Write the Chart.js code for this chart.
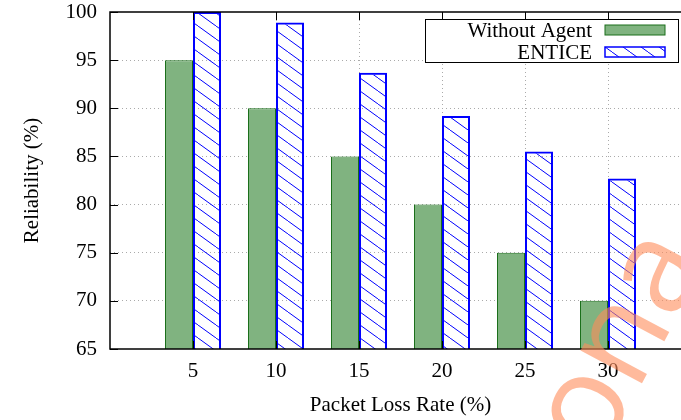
<!DOCTYPE html>
<html>
<head>
<meta charset="utf-8">
<script src="https://cdn.jsdelivr.net/npm/chart.js@4.4.1/dist/chart.umd.min.js"></script>
<style>
  html, body { margin: 0; padding: 0; background: #fff; overflow: hidden; }
  #wrap { position: relative; width: 700px; height: 420px; }
</style>
</head>
<body>
<div id="wrap"><canvas id="relChart"></canvas></div>
<script>
// Datos del gráfico
const lossRates = ['0', '5', '10', '15', '20', '25', '30', '35'];
const withoutAgent = [null, 95, 90, 85, 80, 75, 70, null];
const entice = [null, 100, 98.9, 93.7, 89.2, 85.5, 82.7, null];
const seriesNames = ['Without Agent', 'ENTICE'];
const yTicks = [65, 70, 75, 80, 85, 90, 95, 100];
const watermarkText = 'ona';

const serif = '"Liberation Serif", "Times New Roman", serif';

// Patrón rayado para ENTICE
function makeHatch(color) {
    const c = document.createElement('canvas');
    c.width = 18;
    c.height = 13;
    const g = c.getContext('2d');
    g.strokeStyle = color;
    g.lineWidth = 1;
    g.beginPath();
    g.moveTo(-18, -13);
    g.lineTo(36, 26);
    g.stroke();
    return g.createPattern(c, 'repeat');
}

const hatch = makeHatch('#0000ff');

// Bordes, ticks interiores, leyenda y marca de agua
const gnuplotStyle = {
    id: 'gnuplotStyle',
    afterDatasetsDraw(chart) {
        const ctx = chart.ctx;
        const a = chart.chartArea;
        const xs = chart.scales.x;
        const ys = chart.scales.y;
        ctx.save();
        ctx.strokeStyle = '#000';
        ctx.lineWidth = 1;
        // ticks eje y (izquierda y derecha)
        yTicks.forEach(v => {
            const y = Math.round(ys.getPixelForValue(v)) + 0.5;
            ctx.beginPath();
            ctx.moveTo(a.left, y); ctx.lineTo(a.left + 8, y);
            ctx.moveTo(a.right, y); ctx.lineTo(a.right - 8, y);
            ctx.stroke();
        });
        // ticks eje x (arriba y abajo)
        lossRates.forEach((lbl, i) => {
            if (i === 0 || i === lossRates.length - 1) return;
            const x = Math.round(xs.getPixelForValue(i)) + 0.5;
            ctx.beginPath();
            ctx.moveTo(x, a.top); ctx.lineTo(x, a.top + 8);
            ctx.moveTo(x, a.bottom); ctx.lineTo(x, a.bottom - 8);
            ctx.stroke();
        });
        // borde completo
        ctx.lineWidth = 1.5;
        ctx.strokeRect(a.left, a.top, a.right - a.left, a.bottom - a.top);

        // leyenda
        const boxR = a.right - 13;
        const boxL = boxR - 253;
        const boxT = a.top + 7;
        const boxB = boxT + 43;
        ctx.fillStyle = '#fff';
        ctx.fillRect(boxL, boxT, boxR - boxL, boxB - boxT);
        ctx.lineWidth = 1;
        ctx.strokeRect(boxL + 0.5, boxT + 0.5, boxR - boxL, boxB - boxT);
        ctx.font = '21px ' + serif;
        ctx.textAlign = 'right';
        ctx.textBaseline = 'middle';
        chart.data.datasets.forEach((ds, i) => {
            const cy = boxT + 11 + i * 22;
            ctx.fillStyle = '#000';
            ctx.fillText(ds.label, boxR - 86, cy + 1);
            const sx = boxR - 73, sw = 60, sh = 10;
            ctx.fillStyle = ds.backgroundColor;
            ctx.fillRect(sx, cy - sh / 2, sw, sh);
            ctx.strokeStyle = ds.borderColor;
            ctx.lineWidth = i === 0 ? 1 : 1.5;
            ctx.strokeRect(sx, cy - sh / 2, sw, sh);
        });
        ctx.restore();
    },
    afterDraw(chart) {
        const ctx = chart.ctx;
        ctx.save();
        ctx.translate(600, 462);
        ctx.rotate(-62 * Math.PI / 180);
        ctx.font = '130px "Open Sans", "DejaVu Sans", sans-serif';
        ctx.fillStyle = 'rgba(255, 140, 90, 0.6)';
        ctx.textBaseline = 'alphabetic';
        ctx.fillText(watermarkText, 0, 0);
        ctx.restore();
    }
};

const ctx = document.getElementById('relChart').getContext('2d');
const relChart = new Chart(ctx, {
    type: 'bar',
    data: {
        labels: lossRates,
        datasets: [{
            label: seriesNames[0],
            data: withoutAgent,
            backgroundColor: '#80b380',
            borderColor: '#1a6e1a',
            borderWidth: 1,
            borderSkipped: false
        }, {
            label: seriesNames[1],
            data: entice,
            backgroundColor: hatch,
            borderColor: '#0000ff',
            borderWidth: 2,
            borderSkipped: false
        }]
    },
    options: {
        responsive: true,
        maintainAspectRatio: false,
        animation: false,
        categoryPercentage: 0.675,
        barPercentage: 1,
        layout: { padding: { left: 0, top: 12, right: 9, bottom: 0 } },
        plugins: {
            legend: { display: false },
            tooltip: { enabled: false }
        },
        scales: {
            x: {
                offset: false,
                grid: {
                    offset: false,
                    drawTicks: false,
                    color: c => (c.index === 0 || c.index === lossRates.length - 1) ? 'rgba(0,0,0,0)' : '#aaa'
                },
                border: { display: false, dash: [1, 3] },
                ticks: {
                    color: '#000',
                    font: { family: serif, size: 21 },
                    padding: 10,
                    maxRotation: 0,
                    autoSkip: false,
                    callback: function (value, index) {
                        if (index === 0 || index === lossRates.length - 1) return '';
                        return this.getLabelForValue(value);
                    }
                },
                title: {
                    display: true,
                    text: 'Packet Loss Rate (%)',
                    color: '#000',
                    font: { family: serif, size: 21 },
                    padding: { top: 0, bottom: 2 }
                },
                afterFit: s => {
                    s.height = 71;
                    s.paddingLeft = 0;
                    s.paddingRight = 0;
                }
            },
            y: {
                min: 65,
                max: 100,
                grid: {
                    drawTicks: false,
                    color: c => (c.tick.value === 65 || c.tick.value === 100) ? 'rgba(0,0,0,0)' : '#aaa'
                },
                border: { display: false, dash: [1, 3] },
                ticks: {
                    stepSize: 5,
                    color: '#000',
                    font: { family: serif, size: 21 },
                    padding: 13
                },
                title: {
                    display: true,
                    text: 'Reliability (%)',
                    color: '#000',
                    font: { family: serif, size: 21 },
                    padding: { top: 20, bottom: 0 }
                },
                afterFit: s => {
                    s.width = 110;
                    s.paddingTop = 0;
                    s.paddingBottom = 0;
                }
            }
        }
    },
    plugins: [gnuplotStyle]
});
</script>
</body>
</html>
